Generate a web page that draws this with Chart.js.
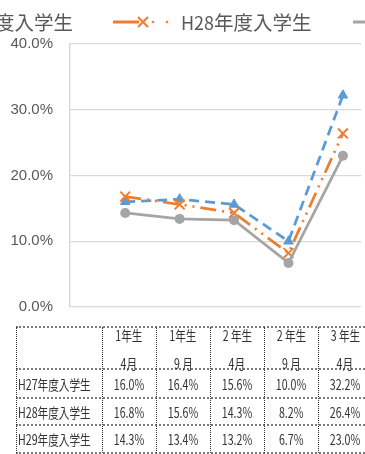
<!DOCTYPE html>
<html lang="ja">
<head>
<meta charset="utf-8">
<script src="https://cdn.jsdelivr.net/npm/chart.js@4.4.1/dist/chart.umd.min.js"></script>
<style>
  html, body { margin: 0; padding: 0; background: #fff; }
  body { width: 365px; height: 454px; position: relative; overflow: hidden; }
  #chart { position: absolute; left: 0; top: 0; }
  .leg { position: absolute; top: 8px; height: 28px; line-height: 28px; white-space: nowrap;
         color: #595959; font-family: "Noto Sans CJK JP", "Noto Sans", sans-serif; font-size: 18px; }
  .leg .cjk { font-size: 19.5px; }
  #legsym { position: absolute; left: 0; top: 0; }
  .cell { position: absolute; font-family: "Noto Sans CJK JP", "Noto Sans", sans-serif; font-size: 14px;
          color: #333; white-space: nowrap; line-height: 16px; }
  .cell span { display: inline-block; transform: scaleX(0.76); transform-origin: center; }
  .cell.lab span { transform-origin: left center; }
  .hl { position: absolute; height: 0; border-top: 2px dotted #7a7a7a; }
  .vl { position: absolute; width: 0; border-left: 1px dotted #333; }
</style>
</head>
<body>
<canvas id="chart" width="370" height="333"></canvas>
<svg id="legsym" width="365" height="40"></svg>
<div id="legend"></div>
<div id="table"></div>
<script>
// Column headings (two lines) and series names
const headTop = ['1年生', '1年生', '2 年生', '2 年生', '3 年生'];
const headBottom = ['4月', '9 月', '4月', '9 月', '4月'];
const seriesNames = ['H27年度入学生', 'H28年度入学生', 'H29年度入学生'];

// Percentages per cohort
const h27 = [16.0, 16.4, 15.6, 10.0, 32.2];
const h28 = [16.8, 15.6, 14.3, 8.2, 26.4];
const h29 = [14.3, 13.4, 13.2, 6.7, 23.0];

// Value axis ticks
const yTicks = [0, 10, 20, 30, 40];

const colors = ['#5B9BD5', '#ED7D31', '#A5A5A5'];
const series = [h27, h28, h29];

const pts = arr => arr.map((v, i) => ({ x: i, y: v }));

new Chart(document.getElementById('chart'), {
  type: 'line',
  data: {
    datasets: [
      {
        label: seriesNames[0], data: pts(h27), order: 3,
        borderColor: colors[0], borderWidth: 2.75, borderDash: [10, 6],
        pointStyle: 'triangle', pointRadius: 5.5, pointBorderWidth: 1,
        pointBackgroundColor: colors[0], pointBorderColor: colors[0]
      },
      {
        label: seriesNames[1], data: pts(h28), order: 2,
        borderColor: colors[1], borderWidth: 2.75, borderDash: [16, 6, 2, 6, 2, 6],
        pointStyle: 'crossRot', pointRadius: 7, pointBorderWidth: 2,
        pointBackgroundColor: colors[1], pointBorderColor: colors[1]
      },
      {
        label: seriesNames[2], data: pts(h29), order: 1,
        borderColor: colors[2], borderWidth: 2.75,
        pointStyle: 'circle', pointRadius: 5, pointBorderWidth: 0,
        pointBackgroundColor: colors[2], pointBorderColor: colors[2]
      }
    ]
  },
  options: {
    responsive: false,
    maintainAspectRatio: false,
    animation: false,
    events: [],
    layout: { padding: { top: 44, bottom: 0, left: 0, right: 0 } },
    plugins: { legend: { display: false }, tooltip: { enabled: false } },
    elements: { line: { tension: 0 } },
    scales: {
      x: { type: 'linear', display: false, min: -1.014, max: 4.332 },
      y: {
        min: yTicks[0], max: yTicks[yTicks.length - 1],
        afterBuildTicks: s => { s.ticks = yTicks.map(v => ({ value: v })); },
        afterFit: s => { s.width = 70; },
        ticks: {
          callback: v => v.toFixed(1) + '%',
          color: '#595959', padding: 17,
          font: { family: 'Liberation Sans', size: 15 }
        },
        grid: { color: '#d9d9d9', lineWidth: 1.3, drawTicks: false },
        border: { display: true, color: '#d4d4d4', width: 1.3 }
      }
    }
  }
});

// Legend (the first entry runs off the left edge)
const legend = document.getElementById('legend');
function legendText(name, css) {
  const d = document.createElement('div');
  d.className = 'leg';
  Object.assign(d.style, css);
  const m = name.match(/^([A-Z0-9]+)(.*)$/);
  d.innerHTML = m[1] + '<span class="cjk">' + m[2] + '</span>';
  legend.appendChild(d);
}
legendText(seriesNames[0], { right: (365 - 73) + 'px' });
legendText(seriesNames[1], { left: '181px' });

const svg = document.getElementById('legsym');
svg.innerHTML =
  '<line x1="113" y1="22" x2="139" y2="22" stroke="' + colors[1] + '" stroke-width="3"/>' +
  '<line x1="138" y1="17" x2="148" y2="27" stroke="' + colors[1] + '" stroke-width="2"/>' +
  '<line x1="138" y1="27" x2="148" y2="17" stroke="' + colors[1] + '" stroke-width="2"/>' +
  '<circle cx="153" cy="22" r="1.3" fill="' + colors[1] + '"/>' +
  '<circle cx="167" cy="22" r="1.3" fill="' + colors[1] + '"/>' +
  '<line x1="353" y1="22" x2="366" y2="22" stroke="' + colors[2] + '" stroke-width="3"/>';

// Data table below the plot
const table = document.getElementById('table');
const colX = [16, 102, 156, 210, 264, 318, 372];
const rowY = [327, 369, 398, 425, 453];
function add(cls, css, html) {
  const d = document.createElement('div');
  d.className = cls;
  Object.assign(d.style, css);
  if (html !== undefined) d.innerHTML = html;
  table.appendChild(d);
}
rowY.forEach(y => add('hl', { left: colX[0] + 'px', top: (y - 1) + 'px', width: (colX[6] - colX[0]) + 'px' }));
colX.forEach(x => add('vl', { left: x + 'px', top: rowY[0] + 'px', height: (rowY[4] - rowY[0]) + 'px' }));

for (let c = 0; c < 5; c++) {
  const l = colX[c + 1], w = colX[c + 2] - colX[c + 1];
  add('cell', { left: l + 'px', width: w + 'px', top: (335 - 8) + 'px', textAlign: 'center' }, '<span>' + headTop[c] + '</span>');
  add('cell', { left: l + 'px', width: w + 'px', top: (363 - 8) + 'px', textAlign: 'center' }, '<span>' + headBottom[c] + '</span>');
}
series.forEach((arr, r) => {
  const cy = (rowY[r + 1] + rowY[r + 2]) / 2;
  add('cell lab', { left: (colX[0] + 2) + 'px', top: (cy - 8) + 'px' }, '<span>' + seriesNames[r] + '</span>');
  arr.forEach((v, c) => {
    const l = colX[c + 1], w = colX[c + 2] - colX[c + 1];
    add('cell', { left: l + 'px', width: w + 'px', top: (cy - 8) + 'px', textAlign: 'center' }, '<span>' + v.toFixed(1) + '%</span>');
  });
});
</script>
</body>
</html>
